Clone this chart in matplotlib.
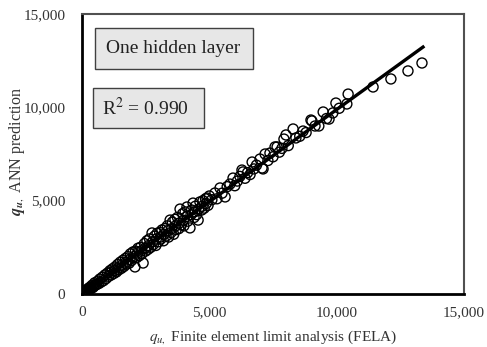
import matplotlib
matplotlib.use("Agg")
import matplotlib.pyplot as plt
from matplotlib.patches import Rectangle
import numpy as np

plt.rcParams['font.family'] = ['Liberation Serif', 'DejaVu Serif']
plt.rcParams['mathtext.fontset'] = 'stix'

# FELA values (x) and ANN predictions (y)
fela = [20, 40, 60, 80, 100, 120, 150, 180, 200, 230, 260, 300, 330, 360, 400, 430, 470, 500, 540, 580,
        620, 660, 700, 750, 800, 850, 900, 950, 1000,
        1050, 1100, 1150, 1200, 1250, 1300, 1350, 1400, 1450, 1500, 1550, 1600, 1650, 1700, 1750, 1800,
        1850, 1900, 1950, 2000, 2080, 2100, 2150, 2200, 2250, 2300, 2350, 2400, 2450, 2500,
        2550, 2600, 2650, 2700, 2750, 2800, 2850, 2900, 2950, 3000, 3050, 3100, 3140, 3200, 3250, 3300,
        3350, 3400, 3460, 3500, 3550, 3600, 3650, 3700, 3750, 3800, 3850, 3900, 3950, 4000, 4050, 4120,
        4150, 4240, 4300, 4360, 4400, 4450, 4500, 4560, 4630, 4700, 4750, 4800, 4850, 4910, 4950, 5000,
        1120, 1280, 1420, 1580, 1720, 1880, 2030, 2180, 2320, 2480, 2620, 2780, 2920, 3080, 3220, 3380,
        3520, 3680, 3820, 3980, 4130, 4280, 4420, 4580, 4720, 4880,
        5100, 5220, 5300, 5420, 5500, 5620, 5700, 5810, 5930, 6000, 6100, 6200, 6280, 6320, 6400, 6500,
        6600, 6680, 6750, 6850, 6990, 7070, 7110, 7190, 7300, 7380, 7500, 7580, 7660, 7750, 7850, 7930, 8010,
        8100, 8290, 8400, 8550, 8680, 8800, 8990, 9030, 9150, 9300, 9470, 9600, 9700, 9850, 9970, 10100,
        10400, 10450,
        11430, 12130, 12800, 13350]
ann = [30, 20, 90, 60, 150, 80, 120, 230, 160, 200, 310, 250, 380, 300, 470, 350, 420, 600, 480, 520,
       690, 560, 800, 640, 900, 720, 1020, 830, 1120,
       950, 1250, 1020, 1350, 1100, 1450, 1180, 1580, 1300, 1700, 1380, 1800, 1480, 1900, 1600, 2000,
       1650, 2150, 1800, 2250, 1450, 2300, 1950, 2450, 2050, 2500, 2150, 1660, 2700, 2300,
       2850, 2400, 2950, 2500, 3270, 2650, 3100, 2600, 3250, 2800, 3300, 2950, 3430, 2850, 3500, 3100,
       3650, 3050, 3960, 3300, 3850, 3200, 4000, 3450, 4100, 3500, 4550, 3700, 4300, 3650, 4400, 4660,
       3900, 3540, 4500, 4870, 4100, 4700, 4250, 3960, 4930, 4500, 5000, 4600, 5100, 5140, 4750, 5250,
       1150, 1250, 1400, 1550, 1700, 1850, 2000, 2200, 2300, 2450, 2600, 2800, 2950, 3050, 3200, 3400,
       3500, 3650, 3800, 3950, 4150, 4250, 4400, 4550, 4700, 4850,
       5050, 5410, 5100, 5680, 5400, 5200, 5750, 5890, 6210, 5800, 6050, 6300, 6640, 6540, 6200, 6500,
       6400, 7070, 6700, 6900, 7230, 6750, 6700, 7500, 7150, 7550, 7350, 7880, 7880, 7600, 7800, 8300, 8520,
       7950, 8840, 8360, 8450, 8730, 8650, 9320, 9270, 9000, 9000, 9750, 9400, 9370, 9700, 10230, 9950,
       10180, 10710,
       11090, 11520, 11950, 12375]

# Trendline
trend_x = [0, 13390]
trend_slope = 0.988
trend_intercept = 0.0

xticks = [0, 5000, 10000, 15000]
yticks = [0, 5000, 10000, 15000]
tick_labels = ['0', '5,000', '10,000', '15,000']

fig = plt.figure(figsize=(4.87, 3.47), dpi=100)
ax = fig.add_axes([82/487, 1-294/347, 382/487, 280/347])

ax.scatter(fela, ann, s=52, facecolors='none', edgecolors='black', linewidths=1.0, zorder=3)
tx = np.array(trend_x)
ax.plot(tx, trend_slope*tx + trend_intercept, color='black', lw=2.4, zorder=4)

ax.set_xlim(0, 15000)
ax.set_ylim(0, 15000)
ax.set_xticks(xticks)
ax.set_xticklabels(tick_labels)
ax.set_yticks(yticks)
ax.set_yticklabels(tick_labels)
ax.tick_params(length=0, labelsize=11, colors='#333333', pad=12)
ax.tick_params(axis='x', pad=9)
for s in ['left', 'bottom']:
    ax.spines[s].set_linewidth(2.0)
    ax.spines[s].set_color('black')
for s in ['top', 'right']:
    ax.spines[s].set_linewidth(1.5)
    ax.spines[s].set_color('#505050')

ax.set_xlabel(r'$q_{u,}$ Finite element limit analysis (FELA)', fontsize=11, color='#333333')
ax.xaxis.set_label_coords(0.5, -0.122)
ax.set_ylabel(r'$\mathbfit{q}_{\mathbfit{u},}$ ANN prediction', fontsize=11.5, color='#333333')
ax.yaxis.set_label_coords(-0.145, 0.51)

# annotation boxes
def box(x0, y0, x1, y1):
    r = Rectangle((x0/487, 1-y1/347), (x1-x0)/487, (y1-y0)/347, transform=fig.transFigure,
                  facecolor='#e7e7e7', edgecolor='#404040', lw=1.0, zorder=5)
    fig.patches.append(r)

box(95, 28, 253, 69)
fig.text(106/487, 1-48.5/347, 'One hidden layer', fontsize=14, va='center', ha='left', color='#222222', zorder=6)
box(93, 88, 204, 128)
fig.text(102/487, 1-108/347, 'R$^2$ = 0.990', fontsize=14, va='center', ha='left', color='#222222', zorder=6)

fig.savefig('out.png', dpi=100)
